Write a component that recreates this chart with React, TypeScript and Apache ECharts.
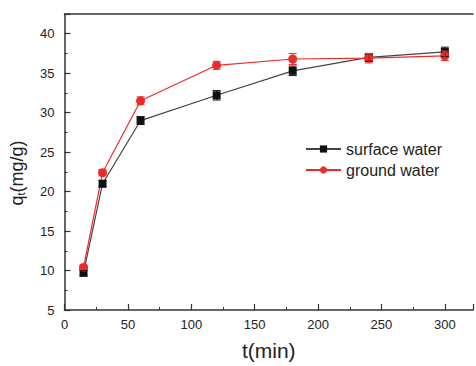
import React, { useEffect, useRef } from "react";
import * as echarts from "echarts";

const times = [15, 30, 60, 120, 180, 240, 300];
const surfaceWater = [9.7, 21.0, 29.0, 32.2, 35.3, 37.0, 37.7];
const surfaceErr = [0.3, 0.4, 0.5, 0.6, 0.6, 0.5, 0.6];
const groundWater = [10.4, 22.4, 31.5, 36.0, 36.8, 36.9, 37.2];
const groundErr = [0.3, 0.4, 0.5, 0.5, 0.7, 0.6, 0.6];

const BLACK = "#111111";
const RED = "#ee2a2a";
const FONT = "Liberation Sans, Arial, sans-serif";

function errSeries(name: string, ys: number[], errs: number[], color: string) {
  return {
    type: "custom",
    name: name + "-err",
    silent: true,
    z: 4,
    data: times.map((t, i) => [t, ys[i], errs[i]]),
    renderItem: (params: any, api: any) => {
      const x = api.value(0);
      const y = api.value(1);
      const e = api.value(2);
      const lo = api.coord([x, y - e]);
      const hi = api.coord([x, y + e]);
      const w = 4;
      const style = { stroke: color, lineWidth: 1 };
      return {
        type: "group",
        children: [
          { type: "line", shape: { x1: lo[0], y1: lo[1], x2: hi[0], y2: hi[1] }, style },
          { type: "line", shape: { x1: lo[0] - w, y1: lo[1], x2: lo[0] + w, y2: lo[1] }, style },
          { type: "line", shape: { x1: hi[0] - w, y1: hi[1], x2: hi[0] + w, y2: hi[1] }, style },
        ],
      };
    },
  };
}

export default function App() {
  const ref = useRef<HTMLDivElement>(null);
  useEffect(() => {
    if (!ref.current) return;
    const chart = echarts.init(ref.current, undefined, { renderer: "svg" });
    const axisLineStyle = { color: "#333", width: 1.5 };
    chart.setOption({
      animation: false,
      backgroundColor: "#ffffff",
      textStyle: { fontFamily: FONT },
      grid: {
        left: 64,
        top: 14,
        right: 0,
        height: 304.5,
        show: false,
      },
      legend: {
        orient: "vertical",
        left: 305,
        top: 141,
        padding: 0,
        itemWidth: 35,
        itemHeight: 9,
        itemGap: 5,
        data: ["surface water", "ground water"],
        textStyle: { fontSize: 16, color: "#222", fontFamily: FONT },
      },
      xAxis: [
        {
          type: "value",
          min: 0,
          max: 322.2,
          interval: 50,
          name: "t(min)",
          nameLocation: "middle",
          nameGap: 30,
          nameTextStyle: { fontSize: 21, color: "#222", fontFamily: FONT },
          axisLine: { show: true, lineStyle: axisLineStyle },
          axisTick: { show: true, inside: true, length: 6, lineStyle: { color: "#333", width: 1.2 } },
          minorTick: { show: true, splitNumber: 2, length: 3, lineStyle: { color: "#333", width: 1 } },
          splitLine: { show: false },
          axisLabel: {
            fontSize: 13,
            color: "#222",
            margin: 8,
            formatter: (v: number) => (v % 50 === 0 && v <= 300 ? String(v) : ""),
          },
        },
        {
          type: "value",
          position: "top",
          min: 0,
          max: 322.2,
          axisLine: { show: true, onZero: false, lineStyle: axisLineStyle },
          axisTick: { show: false },
          axisLabel: { show: false },
          splitLine: { show: false },
        },
      ],
      yAxis: {
        type: "value",
        min: 5,
        max: 42.5,
        interval: 5,
        name: "q{sub|t}(mg/g)",
        nameLocation: "middle",
        nameRotate: 90,
        nameGap: 38,
        nameTextStyle: {
          fontSize: 18,
          color: "#222",
          fontFamily: FONT,
          padding: [0, 22, 0, 0],
          rich: { sub: { fontSize: 11, color: "#222", fontFamily: FONT, verticalAlign: "bottom", padding: [8, 0, 0, 0] } },
        },
        axisLine: { show: true, lineStyle: axisLineStyle },
        axisTick: { show: true, inside: true, length: 6, lineStyle: { color: "#333", width: 1.2 } },
        minorTick: { show: true, splitNumber: 2, length: 3, lineStyle: { color: "#333", width: 1 } },
        splitLine: { show: false },
        axisLabel: {
          fontSize: 13,
          color: "#222",
          margin: 10,
          formatter: (v: number) => (v % 5 === 0 && v <= 40 ? String(v) : ""),
        },
      },
      series: [
        {
          type: "line",
          name: "surface water",
          data: times.map((t, i) => [t, surfaceWater[i]]),
          symbol: "rect",
          symbolSize: 8,
          color: BLACK,
          lineStyle: { color: "#444", width: 1.2 },
          itemStyle: { color: BLACK },
          z: 3,
        },
        {
          type: "line",
          name: "ground water",
          data: times.map((t, i) => [t, groundWater[i]]),
          symbol: "circle",
          symbolSize: 9,
          color: RED,
          lineStyle: { color: RED, width: 1.2 },
          itemStyle: { color: RED },
          z: 3,
        },
        errSeries("surface water", surfaceWater, surfaceErr, BLACK),
        errSeries("ground water", groundWater, groundErr, RED),
      ],
    });
    return () => chart.dispose();
  }, []);
  return <div ref={ref} style={{ width: 476, height: 366, position: "absolute", left: 0, top: 0 }} />;
}
